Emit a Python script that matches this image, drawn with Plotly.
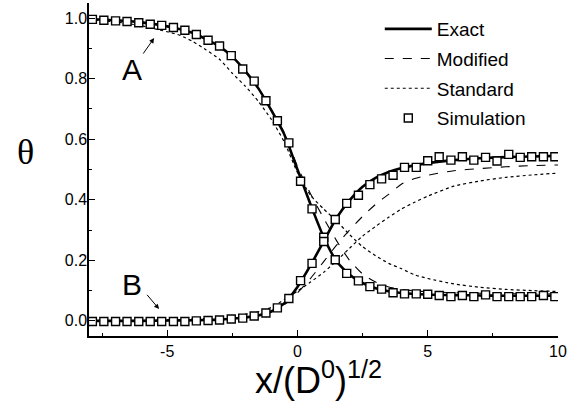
import plotly.graph_objects as go

# ---------------- data ----------------
exact_x = [-8, -7, -6, -5, -4.5, -4, -3.5, -3, -2.5, -2, -1.5, -1, -0.5, 0, 0.5, 1, 1.5, 2, 2.5, 3, 3.5, 4, 5, 6, 7, 8, 9, 10]
exact_A = [0.997, 0.993, 0.986, 0.973, 0.963, 0.951, 0.930, 0.907, 0.873, 0.825, 0.768, 0.695, 0.615, 0.500, 0.385, 0.278, 0.197, 0.152, 0.125, 0.108, 0.098, 0.092, 0.087, 0.085, 0.084, 0.083, 0.083, 0.083]
exact_B = [0.0, 0.0, 0.0, 0.001, 0.0015, 0.002, 0.003, 0.004, 0.007, 0.011, 0.018, 0.031, 0.058, 0.112, 0.183, 0.262, 0.340, 0.398, 0.443, 0.472, 0.492, 0.505, 0.521, 0.531, 0.537, 0.541, 0.543, 0.545]

mod_x = [-8, -6, -4, -3, -2, -1.5, -1, -0.5, 0, 0.5, 1, 1.5, 2, 2.5, 3, 3.5, 4, 4.5, 5, 6, 7, 8, 9, 10]
mod_A = [0.997, 0.986, 0.951, 0.907, 0.825, 0.768, 0.697, 0.620, 0.510, 0.420, 0.340, 0.265, 0.200, 0.155, 0.128, 0.112, 0.104, 0.099, 0.096, 0.093, 0.091, 0.090, 0.089, 0.089]
mod_B = [0.0, 0.0, 0.002, 0.004, 0.011, 0.018, 0.031, 0.054, 0.092, 0.140, 0.195, 0.250, 0.300, 0.345, 0.385, 0.418, 0.452, 0.470, 0.481, 0.496, 0.503, 0.509, 0.513, 0.515]

std_x = [-8, -7, -6, -5.5, -5, -4.5, -4, -3.5, -3, -2.5, -2, -1.5, -1, -0.5, 0, 0.5, 1, 1.5, 2, 2.5, 3, 3.5, 4, 4.5, 5, 6, 7, 8, 9, 10]
std_A = [0.995, 0.988, 0.975, 0.965, 0.955, 0.943, 0.922, 0.895, 0.865, 0.818, 0.775, 0.725, 0.665, 0.590, 0.490, 0.415, 0.370, 0.330, 0.285, 0.245, 0.215, 0.190, 0.172, 0.152, 0.140, 0.122, 0.111, 0.104, 0.100, 0.097]
std_B = [0.0, 0.0, 0.001, 0.002, 0.003, 0.004, 0.006, 0.008, 0.011, 0.016, 0.022, 0.030, 0.045, 0.070, 0.098, 0.128, 0.160, 0.198, 0.240, 0.280, 0.312, 0.342, 0.370, 0.392, 0.412, 0.445, 0.462, 0.474, 0.482, 0.488]

sim_x = [-7.87, -7.43, -6.98, -6.54, -6.09, -5.65, -5.21, -4.76, -4.32, -3.88, -3.43, -2.99, -2.54, -2.10,
         -1.66, -1.21, -0.77, -0.33, 0.12, 0.56, 1.01, 1.45, 1.89, 2.34, 2.78, 3.23, 3.67, 4.11, 4.56, 5.00,
         5.44, 5.89, 6.33, 6.77, 7.22, 7.66, 8.11, 8.55, 8.99, 9.44, 9.88]
sim_A = [0.996, 0.993, 0.991, 0.989, 0.985, 0.980, 0.976, 0.969, 0.960, 0.946, 0.927, 0.908, 0.876, 0.832,
         0.792, 0.727, 0.661, 0.588, 0.461, 0.370, 0.276, 0.202, 0.157, 0.132, 0.113, 0.105, 0.093, 0.089, 0.089, 0.088,
         0.084, 0.080, 0.084, 0.080, 0.086, 0.080, 0.080, 0.080, 0.080, 0.084, 0.080]
sim_B = [-0.002, -0.002, -0.002, -0.002, -0.002, -0.002, -0.002, -0.002, -0.002, 0.0, 0.001, 0.003, 0.006, 0.009,
         0.016, 0.026, 0.043, 0.074, 0.133, 0.190, 0.262, 0.335, 0.388, 0.415, 0.450, 0.469, 0.481, 0.507, 0.507, 0.529,
         0.542, 0.531, 0.542, 0.531, 0.540, 0.528, 0.550, 0.540, 0.542, 0.542, 0.542]

x_ticks = [-5, 0, 5, 10]
y_ticks = [0.0, 0.2, 0.4, 0.6, 0.8, 1.0]
y_tick_text = ["0.0", "0.2", "0.4", "0.6", "0.8", "1.0"]

# ---------------- figure ----------------
FONT = "Arial, Liberation Sans, sans-serif"
fig = go.Figure()

def add_line(x, y, name, dash, width, show):
    fig.add_trace(go.Scatter(
        x=x, y=y, mode="lines", name=name, legendgroup=name, showlegend=show,
        line=dict(color="black", width=width, dash=dash, shape="spline", smoothing=0.6),
    ))

add_line(exact_x, exact_A, "Exact", "solid", 2.6, True)
add_line(exact_x, exact_B, "Exact", "solid", 2.6, False)
add_line(mod_x, mod_A, "Modified", "dash", 1.1, True)
add_line(mod_x, mod_B, "Modified", "dash", 1.1, False)
add_line(std_x, std_A, "Standard", "dot", 1.2, True)
add_line(std_x, std_B, "Standard", "dot", 1.2, False)

sim_marker = dict(symbol="square", size=8, color="white", line=dict(color="black", width=1.4))
fig.add_trace(go.Scatter(x=sim_x, y=sim_A, mode="markers", name="Simulation",
                         legendgroup="Simulation", showlegend=True, marker=sim_marker))
fig.add_trace(go.Scatter(x=sim_x, y=sim_B, mode="markers", name="Simulation",
                         legendgroup="Simulation", showlegend=False, marker=sim_marker))

axis_common = dict(
    showline=True, linecolor="black", linewidth=1.5, mirror=False,
    ticks="inside", ticklen=6, tickwidth=1.3, tickcolor="black",
    showgrid=False, zeroline=False, automargin=False,
    tickfont=dict(family=FONT, size=16, color="black"),
)

fig.update_xaxes(range=[-8, 10], tickvals=x_ticks, ticktext=[str(v) for v in x_ticks],
                 minor=dict(ticks="inside", ticklen=3, tickwidth=1.2, tickcolor="black", dtick=2.5, tick0=0),
                 **axis_common)
fig.update_yaxes(range=[-0.05, 1.05], tickvals=y_ticks, ticktext=y_tick_text,
                 ticklabelstandoff=-3,
                 minor=dict(ticks="inside", ticklen=3, tickwidth=1.2, tickcolor="black", dtick=0.1, tick0=0),
                 **axis_common)

fig.update_layout(
    width=580, height=407,
    margin=dict(l=89, r=22, t=3, b=71),
    paper_bgcolor="white", plot_bgcolor="white",
    font=dict(family=FONT, color="black"),
    showlegend=True,
    legend=dict(x=0.62, y=0.979, xanchor="left", yanchor="top",
                bgcolor="rgba(0,0,0,0)", font=dict(family=FONT, size=19, color="black"),
                tracegroupgap=2, itemwidth=47),
)

# axis titles as annotations
fig.add_annotation(xref="paper", yref="paper", x=0.49, y=-0.126, yanchor="middle",
                   text="x/(D<sup>0</sup>)<sup>1/2</sup>", showarrow=False,
                   font=dict(family=FONT, size=36, color="black"))
fig.add_annotation(xref="paper", yref="paper", x=-0.136, y=0.553, xanchor="center", yanchor="middle",
                   text="θ", showarrow=False,
                   font=dict(family="Liberation Serif, serif", size=36, color="black"))

# A and B labels with arrows
fig.add_annotation(x=-6.35, y=0.83, text="A", showarrow=False,
                   font=dict(family=FONT, size=30, color="black"))
fig.add_annotation(x=-6.35, y=0.12, text="B", showarrow=False,
                   font=dict(family=FONT, size=30, color="black"))
fig.add_annotation(x=-5.5, y=0.934, ax=-5.96, ay=0.878, axref="x", ayref="y",
                   text="", showarrow=True, arrowhead=2, arrowsize=1, arrowwidth=1, arrowcolor="black")
fig.add_annotation(x=-5.31, y=0.039, ax=-5.82, ay=0.091, axref="x", ayref="y",
                   text="", showarrow=True, arrowhead=2, arrowsize=1, arrowwidth=1, arrowcolor="black")

fig.write_html("out.html", post_script="document.body.style.margin='0px';",
               config={"displayModeBar": False})
